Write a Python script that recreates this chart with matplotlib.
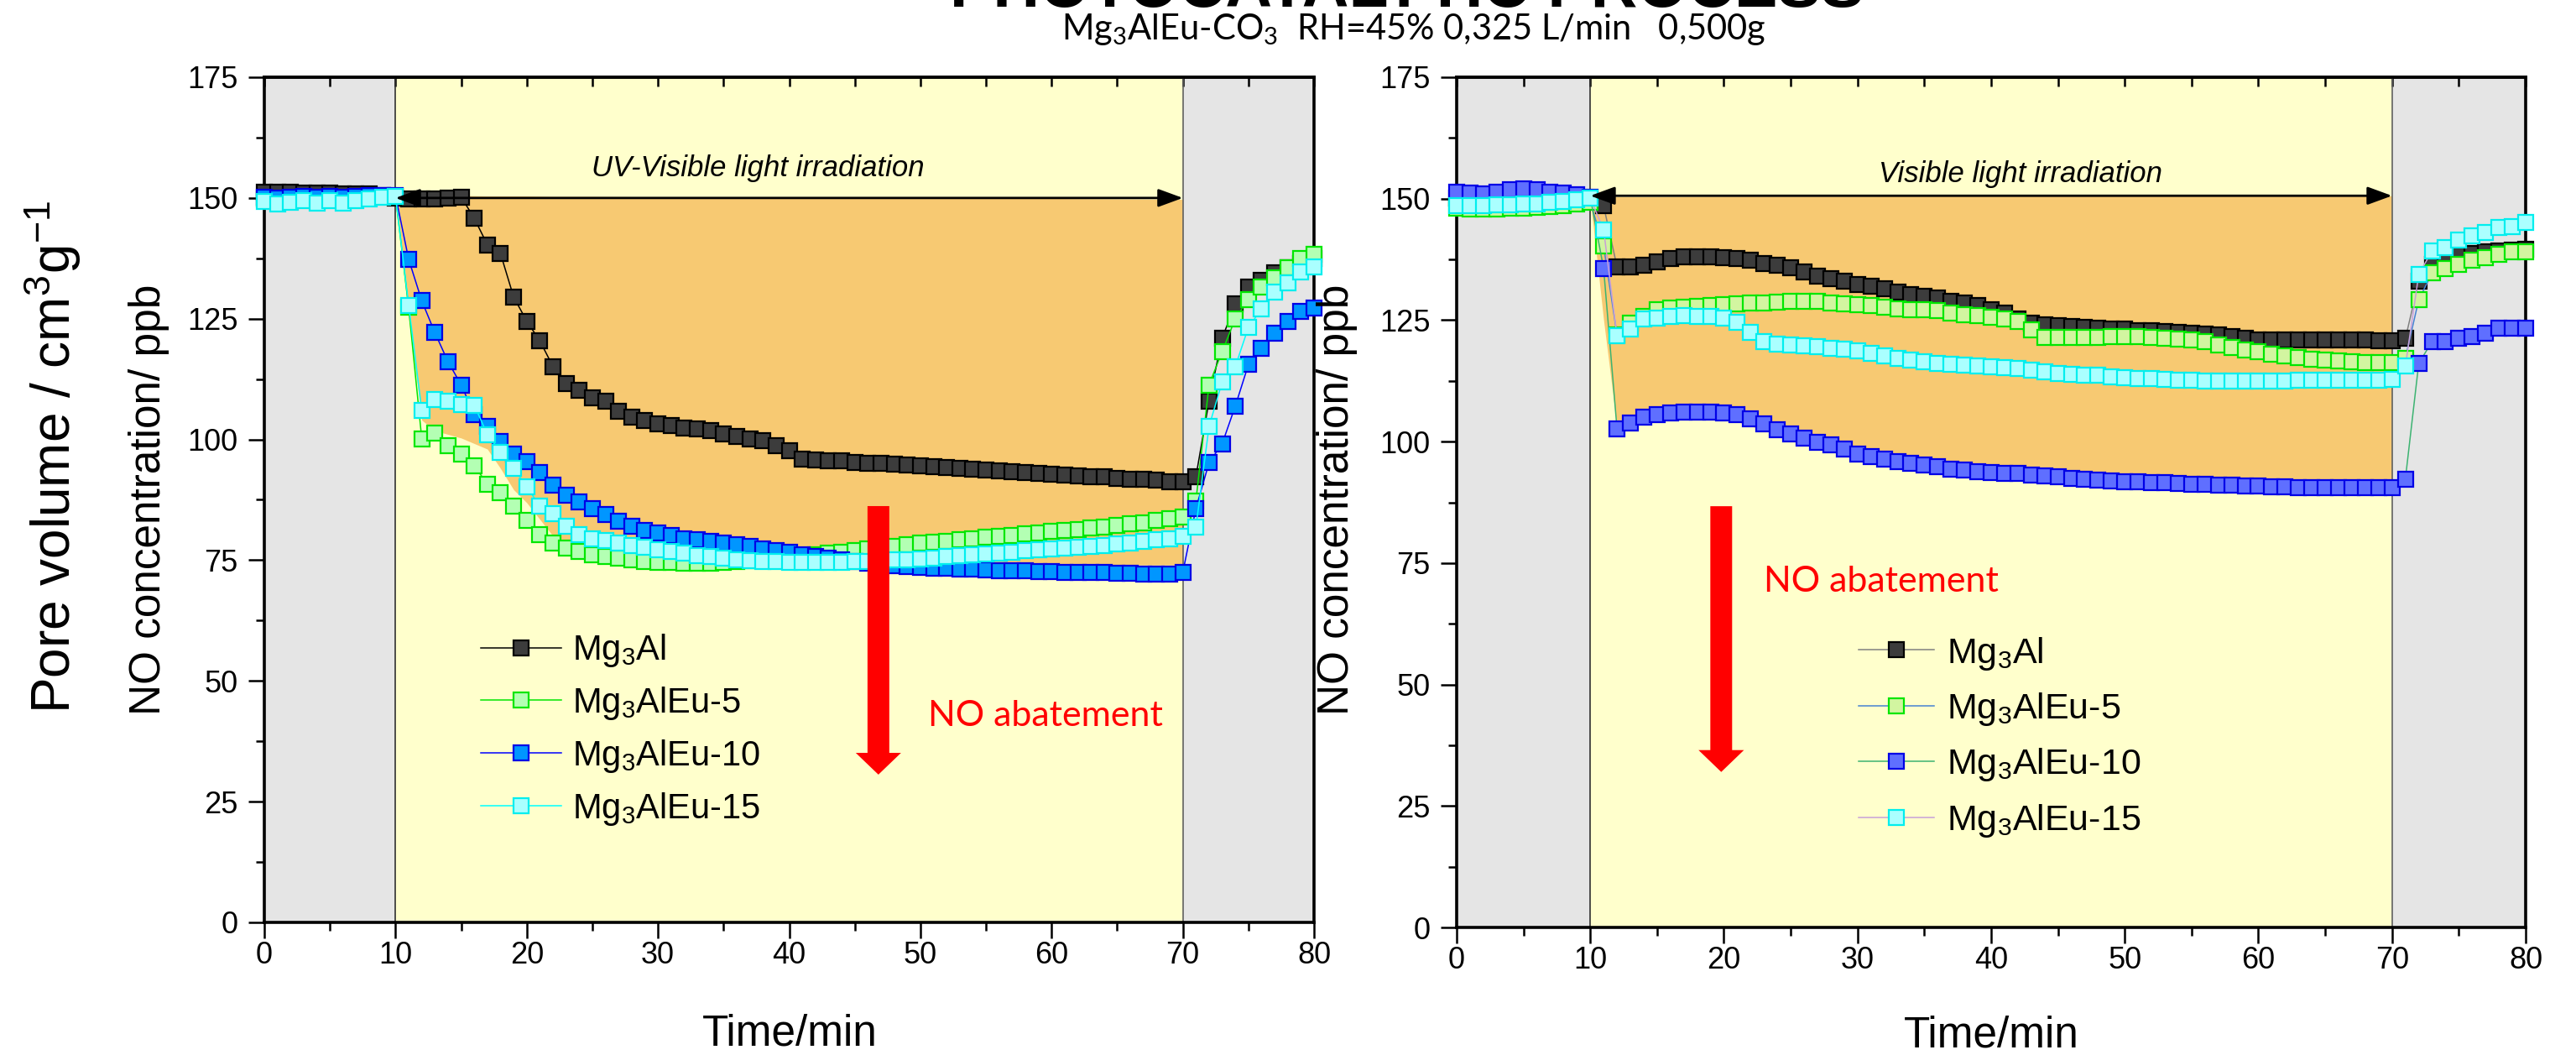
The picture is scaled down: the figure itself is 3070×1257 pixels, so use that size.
import matplotlib
matplotlib.use('Agg')
import matplotlib.pyplot as plt
import numpy as np

plt.rcParams['font.family'] = ['Liberation Sans', 'DejaVu Sans']
plt.rcParams['mathtext.fontset'] = 'custom'
plt.rcParams['mathtext.rm'] = 'Liberation Sans'
plt.rcParams['mathtext.it'] = 'Liberation Sans:italic'
plt.rcParams['mathtext.bf'] = 'Liberation Sans:bold'

# ---- data (NO concentration, ppb, one reading per minute) ----
time_min = np.arange(0, 81)
labels = [r'Mg$_{\mathregular{3}}$Al', r'Mg$_{\mathregular{3}}$AlEu-5',
          r'Mg$_{\mathregular{3}}$AlEu-10', r'Mg$_{\mathregular{3}}$AlEu-15']

# left panel: UV-Visible light
uv_mg3al = [151.2, 151.2, 151.2, 151.1, 151.1, 151.0, 150.9, 150.9, 150.8, 150.5, 150.0,
            149.8, 149.8, 149.8, 150.0, 150.2,
            145.8, 140.3, 138.5, 129.5, 124.5, 120.4, 115.1, 111.6, 110.2, 108.7, 107.9, 105.8,
            104.7, 103.9, 103.3, 102.8, 102.4, 102.1, 101.8, 101.2, 100.6, 100.1, 99.8, 98.7,
            97.6, 96.0,
            95.8, 95.6, 95.5, 95.3, 95.1, 95.0, 94.8, 94.7, 94.5, 94.3, 94.2, 94.0, 93.9, 93.7,
            93.5, 93.3, 93.2, 93.0, 92.8, 92.7, 92.5, 92.3, 92.2, 92.0, 91.8, 91.7, 91.5, 91.3, 91.2,
            92.3, 108.0, 121.0, 128.0, 131.5, 133.0, 134.5, 135.5, 136.5, 137.5]
uv_eu5 = [149.8, 149.6, 149.8, 150.0, 149.8, 150.0, 150.0, 150.2, 150.2, 150.3, 150.3,
          127.3, 100.1, 101.4, 98.7, 97.0, 94.5, 90.8, 89.0, 86.2, 83.3, 80.3, 78.6,
          77.5, 76.8, 76.2, 75.8, 75.4, 75.1, 74.8, 74.6, 74.5, 74.4, 74.3, 74.4, 74.5, 74.7,
          74.9, 75.1, 75.3, 75.6, 75.8, 76.1, 76.4, 76.7, 77.0, 77.3, 77.6, 77.9, 78.2, 78.5,
          78.7, 78.9, 79.2, 79.4, 79.7, 79.9, 80.2, 80.4, 80.7, 80.9, 81.2, 81.4, 81.7, 81.9,
          82.2, 82.5, 82.8, 83.2, 83.6, 84.0,
          87.3, 111.3, 118.2, 125.0, 129.0, 131.5, 133.5, 135.5, 137.5, 138.4]
uv_eu10 = [150.2, 150.0, 150.2, 150.3, 150.1, 150.3, 150.2, 150.4, 150.5, 150.5, 150.5,
           137.3, 128.7, 122.1, 116.1, 111.3, 105.2, 102.7, 99.5, 96.9, 95.4, 93.1, 90.5, 88.5,
           87.0, 85.6, 84.4, 83.0, 82.1, 81.2, 80.6, 80.1, 79.5, 79.2, 78.9, 78.6,
           78.2, 77.8, 77.4, 77.0, 76.6, 76.2, 75.8, 75.4, 75.0, 74.7, 74.4, 74.1, 73.9, 73.7,
           73.5, 73.4, 73.3, 73.2, 73.1, 73.0, 72.9, 72.8, 72.8, 72.7, 72.6, 72.5, 72.5, 72.4,
           72.4, 72.3, 72.3, 72.2, 72.2, 72.2, 72.5,
           85.7, 95.2, 99.1, 106.9, 115.5, 118.8, 122.0, 124.5, 126.5, 127.2]
uv_eu15 = [149.3, 148.7, 149.1, 149.4, 149.0, 149.4, 149.0, 149.4, 149.8, 150.1, 150.3,
           127.8, 106.0, 108.3, 107.9, 107.3, 107.1, 101.0, 97.4, 94.0, 90.2, 86.2, 84.7, 82.1,
           80.3, 79.5,
           79.0, 78.5, 78.0, 77.6, 77.2, 76.8, 76.4, 76.0, 75.7, 75.4, 75.1, 74.9, 74.8, 74.7,
           74.6, 74.6, 74.6, 74.6, 74.6, 74.7, 74.8, 74.9, 75.0, 75.1, 75.3, 75.5, 75.7, 75.9,
           76.1, 76.3, 76.5, 76.7, 76.9, 77.1, 77.3, 77.5, 77.7, 77.9, 78.1, 78.3, 78.6, 78.9,
           79.2, 79.5, 80.0,
           81.8, 102.7, 111.9, 115.1, 123.2, 127.0, 130.5, 132.5, 134.7, 135.7]

# right panel: Visible light
vis_mg3al = [150.2, 150.0, 150.0, 150.2, 150.5, 150.6, 150.5, 150.3, 150.1, 150.0, 150.0,
             148.5, 136.0, 136.0, 136.3, 137.0, 137.6, 138.0, 138.0, 138.0, 137.8, 137.6, 137.3,
             136.6, 136.3, 135.8, 135.0, 134.0, 133.6, 133.0, 132.3, 132.0, 131.5, 130.8, 130.2,
             129.9, 129.5, 128.9, 128.5, 128.0, 127.2, 126.4, 125.2, 124.4, 124.1, 123.9, 123.7,
             123.6, 123.4, 123.2, 123.1, 122.9, 122.8, 122.6, 122.4, 122.3, 122.1, 121.9, 121.6,
             121.3, 121.0, 120.9, 120.9, 120.9, 121.0, 121.0, 121.0, 120.9, 120.9, 120.8, 120.7,
             121.2, 133.0, 136.5, 137.8, 138.3, 138.7, 139.0, 139.2, 139.4, 139.5]
vis_eu5 = [148.0, 147.9, 147.9, 147.9, 148.0, 148.1, 148.2, 148.4, 148.6, 148.9, 149.3,
           140.2, 122.0, 124.3, 125.8, 127.2, 127.5, 127.6, 127.8, 128.0, 128.1, 128.4, 128.6,
           128.6, 128.7, 128.8, 128.9, 128.9, 128.6, 128.3, 128.2, 128.0, 127.7, 127.4, 127.2,
           127.1, 126.9, 126.5, 126.1, 125.9, 125.6, 125.3, 124.8, 123.0, 121.4, 121.4, 121.4,
           121.4, 121.5, 121.7, 121.6, 121.6, 121.5, 121.3, 121.1, 120.9, 120.5, 119.9, 119.4,
           118.9, 118.5, 118.0, 117.6, 117.3, 117.0, 116.8, 116.6, 116.5, 116.3, 116.2, 116.3,
           117.2, 129.2, 134.7, 135.6, 136.4, 137.3, 137.9, 138.5, 139.0, 139.1]
vis_eu10 = [151.4, 151.2, 151.0, 151.3, 151.8, 152.0, 151.8, 151.4, 151.1, 150.8, 150.3,
            135.6, 102.7, 103.9, 105.0, 105.6, 105.9, 106.1, 106.1, 106.1, 105.9, 105.6, 104.7,
            103.6, 102.4, 101.6, 100.7, 99.8, 99.3, 98.4, 97.5, 97.0, 96.4, 95.8, 95.5, 95.2,
            94.8, 94.4, 94.1, 93.8, 93.6, 93.5, 93.4, 93.2, 93.0, 92.7, 92.5, 92.3, 92.1, 91.9,
            91.8, 91.7, 91.6, 91.5, 91.4, 91.3, 91.2, 91.1, 91.0, 90.9, 90.8, 90.7, 90.7,
            90.6, 90.6, 90.6, 90.6, 90.6, 90.6, 90.6, 90.5,
            92.3, 116.1, 120.6, 120.6, 121.3, 121.6, 122.3, 123.3, 123.3, 123.3]
vis_eu15 = [148.6, 148.6, 148.6, 148.7, 148.8, 148.9, 149.0, 149.2, 149.5, 149.8, 150.1,
            143.6, 121.8, 123.2, 125.2, 125.5,
            125.8, 125.9, 125.8, 125.8, 125.5, 124.6, 122.5, 120.5, 120.1, 119.9, 119.7, 119.5,
            119.2, 119.0, 118.6, 118.2, 117.7, 117.1, 116.8, 116.5, 116.1, 115.9, 115.7, 115.5,
            115.4, 115.2, 115.1, 114.7, 114.4, 114.1, 113.9, 113.7, 113.6, 113.4, 113.2, 113.0,
            112.9, 112.8, 112.7, 112.6, 112.5, 112.5, 112.5, 112.5, 112.5, 112.5, 112.5, 112.6,
            112.7, 112.7, 112.7, 112.7, 112.7, 112.7, 112.8,
            115.5, 134.4, 139.3, 139.9, 141.4, 142.3, 143.1, 144.1, 144.3, 145.1]

# orange "abatement" areas
uv_band_t = [10, 11, 12, 13, 15, 17, 18, 19, 20, 22, 25, 30, 35, 40, 45, 50, 55, 60, 65, 70]
uv_band_top = [150.6, 150.6, 150.5, 150.5, 150.5, 150.4, 150.4, 150.4, 150.4, 150.3, 150.3,
               150.2, 150.2, 150.1, 150.0, 150.0, 149.9, 149.9, 149.8, 149.7]
uv_band_low = [150.0, 125.0, 104.0, 101.8, 100.3, 98.0, 94.0, 89.6, 86.9, 80.0, 77.0, 75.5,
               75.0, 74.5, 74.0, 74.0, 74.0, 74.0, 74.0, 74.0]
vis_band_t = [10, 11, 12, 15, 20, 25, 30, 35, 40, 45, 50, 55, 60, 65, 70]
vis_band_top = [150.4, 150.4, 150.4, 150.4, 150.5, 150.5, 150.5, 150.6, 150.6, 150.6, 150.6,
                150.6, 150.6, 150.6, 150.6]
vis_band_low = [150.0, 125.0, 103.0, 104.5, 105.0, 100.5, 96.5, 94.0, 92.5, 91.5, 91.0, 90.5,
                90.3, 90.3, 90.3]

uv_styles = [dict(mfc='#3c3c3c', mec='#000000', color='#000000'),
             dict(mfc='#b3ffb3', mec='#00e600', color='#00e600'),
             dict(mfc='#0096ff', mec='#0000e6', color='#0000ff'),
             dict(mfc='#aaffff', mec='#00eeee', color='#00ffff')]
vis_styles = [dict(mfc='#3c3c3c', mec='#000000', color='#808080'),
              dict(mfc='#d2f5a0', mec='#00e600', color='#4682d2'),
              dict(mfc='#5f6fff', mec='#0000e6', color='#3cb371'),
              dict(mfc='#aaffff', mec='#00eeee', color='#c8a0d8')]

fig = plt.figure(figsize=(30.7, 12.57), dpi=100)
ax1 = fig.add_axes([0.10261, 0.12570, 0.40749, 0.80111])
ax2 = fig.add_axes([0.56547, 0.12092, 0.41498, 0.80589])


def setup_panel(ax, band_t, band_top, band_low, line70='#606060'):
    ax.axvspan(0, 10, color='#e5e5e5', lw=0, zorder=0)
    ax.axvspan(10, 70, color='#ffffcc', lw=0, zorder=0)
    ax.axvspan(70, 80, color='#e5e5e5', lw=0, zorder=0)
    ax.fill_between(band_t, band_low, band_top, color='#f7c972', lw=0, zorder=1)
    ax.axvline(10, color='#303030', lw=1.2, zorder=2)
    ax.axvline(70, color=line70, lw=1.2, zorder=2)
    ax.set_xlim(0, 80)
    ax.set_ylim(0, 175)
    ax.set_xticks(np.arange(0, 81, 10))
    ax.set_xticks(np.arange(5, 80, 10), minor=True)
    ax.set_yticks(np.arange(0, 176, 25))
    ax.set_yticks(np.arange(12.5, 175, 25), minor=True)
    ax.tick_params(which='major', length=13.5, width=1.8, labelsize=26, direction='out')
    ax.tick_params(which='minor', length=7, width=1.8, direction='out')
    ax.tick_params(axis='y', pad=9)
    ax.tick_params(axis='x', pad=2)
    for sp in ax.spines.values():
        sp.set_linewidth(2.6)
    sec = ax.secondary_xaxis('top')
    sec.set_xticks(np.arange(0, 81, 5))
    sec.set_xticklabels([])
    sec.tick_params(direction='in', length=8, width=1.8)
    sec.spines['top'].set_linewidth(2.6)


def draw_series(ax, series, styles):
    handles = []
    for k, (vals, st) in enumerate(zip(series, styles)):
        h, = ax.plot(time_min, vals, marker='s', ms=13.5, mew=1.6, lw=1.1,
                     mfc=st['mfc'], mec=st['mec'], color=st['color'],
                     zorder=3 + k, clip_on=False)
        handles.append(h)
    return handles


setup_panel(ax1, uv_band_t, uv_band_top, uv_band_low)
h1 = draw_series(ax1, [uv_mg3al, uv_eu5, uv_eu10, uv_eu15], uv_styles)
setup_panel(ax2, vis_band_t, vis_band_top, vis_band_low)
h2 = draw_series(ax2, [vis_mg3al, vis_eu5, vis_eu10, vis_eu15], vis_styles)

arrow_kw = dict(arrowstyle='<|-|>, head_length=0.6, head_width=0.22', color='black',
                lw=2, mutation_scale=30, shrinkA=0, shrinkB=0)
ax1.annotate('', xy=(70, 150), xytext=(10, 150), arrowprops=arrow_kw, zorder=8)
ax2.annotate('', xy=(70, 150.6), xytext=(10, 150.6), arrowprops=arrow_kw, zorder=8)
ax1.text(37.6, 154.5, 'UV-Visible light irradiation', style='italic', fontsize=25,
         ha='center', va='baseline', zorder=8)
ax2.text(42.2, 153.4, 'Visible light irradiation', style='italic', fontsize=25,
         ha='center', va='baseline', zorder=8)

ax1.arrow(46.8, 86.2, 0, -55.6, width=1.66, head_width=3.45, head_length=4.5,
          length_includes_head=True, color='red', lw=0, zorder=9)
ax2.arrow(19.8, 86.7, 0, -54.7, width=1.63, head_width=3.4, head_length=4.5,
          length_includes_head=True, color='red', lw=0, zorder=9)
ax1.text(50.6, 40.7, 'NO abatement', color='red', fontsize=31, family=['Lato', 'DejaVu Sans'],
         ha='left', va='baseline', zorder=9)
ax2.text(23.0, 69.1, 'NO abatement', color='red', fontsize=31, family=['Lato', 'DejaVu Sans'],
         ha='left', va='baseline', zorder=9)

ax1.legend(h1, labels, loc='center left', bbox_to_anchor=(0.206, 0.228), frameon=False,
           fontsize=30, handlelength=2.3, handletextpad=0.33, labelspacing=0.45,
           borderpad=0, borderaxespad=0, numpoints=1)
ax2.legend(h2, labels, loc='center left', bbox_to_anchor=(0.376, 0.224), frameon=False,
           fontsize=31, handlelength=2.1, handletextpad=0.33, labelspacing=0.52,
           borderpad=0, borderaxespad=0, numpoints=1)

fig.text(177 / 3070, 1 - 595 / 1257, 'NO concentration/ ppb', rotation=90, fontsize=37,
         ha='center', va='center')
fig.text(1594 / 3070, 1 - 595 / 1257, 'NO concentration/ ppb', rotation=90, fontsize=37,
         ha='center', va='center')
fig.text(63 / 3070, 1 - 545 / 1257, r'Pore volume / cm$^{3}$g$^{-1}$', rotation=90,
         fontsize=46, ha='center', va='center')
fig.text(941 / 3070, 1 - 1246 / 1257, 'Time/min', fontsize=37, ha='center', va='baseline')
fig.text(2373 / 3070, 1 - 1248 / 1257, 'Time/min', fontsize=37, ha='center', va='baseline')

fig.text(1677 / 3070, 1 - 8 / 1257, 'PHOTOCATALYTIC PROCESS', fontsize=55.5,
         fontweight='bold', ha='center', va='baseline')
fig.text(1685 / 3070, 1 - 47 / 1257,
         r'Mg$_{\mathregular{3}}$AlEu-CO$_{\mathregular{3}}$  RH=45% 0,325 L/min   0,500g',
         fontsize=30, family=['Lato', 'DejaVu Sans'], ha='center', va='baseline')

fig.savefig('out.png', dpi=100)
